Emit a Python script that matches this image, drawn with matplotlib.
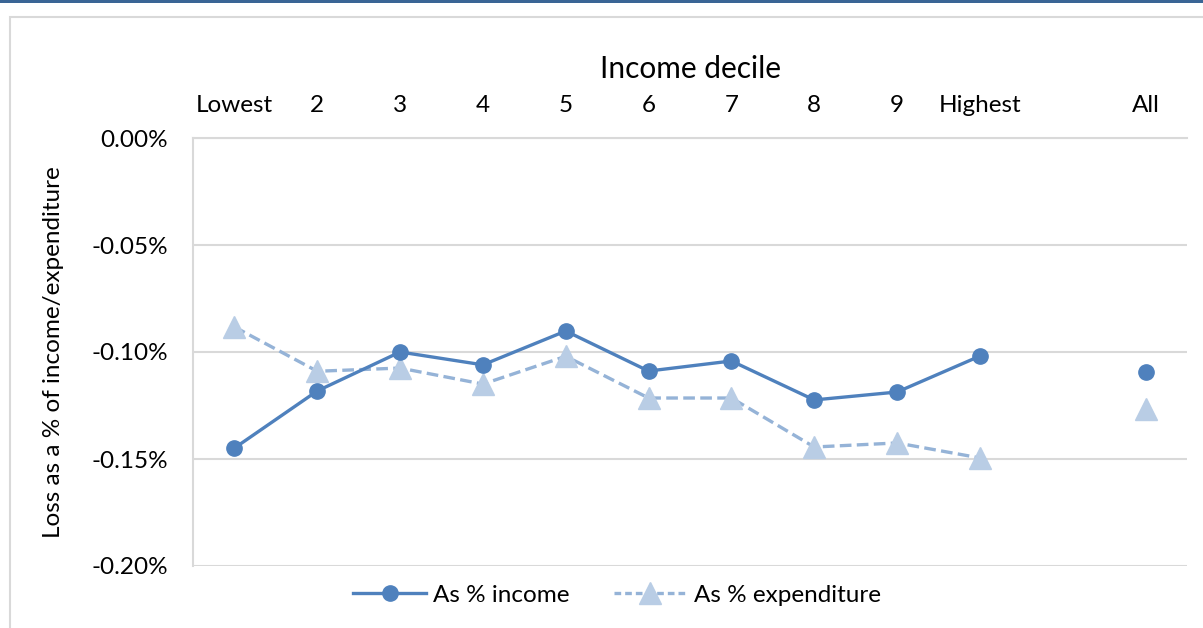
import matplotlib
matplotlib.use("Agg")
import matplotlib.pyplot as plt
from matplotlib.lines import Line2D
from matplotlib.patches import Rectangle
from matplotlib.ticker import FuncFormatter

plt.rcParams['font.family'] = ['Lato', 'DejaVu Sans']

categories = ['Lowest', '2', '3', '4', '5', '6', '7', '8', '9', 'Highest', '', 'All']
deciles = categories[:10]
as_income = [-0.1449, -0.1182, -0.1000, -0.1060, -0.0902, -0.1089, -0.1042, -0.1224, -0.1187, -0.1019]
as_expend = [-0.0883, -0.1090, -0.1075, -0.1150, -0.1020, -0.1215, -0.1215, -0.1444, -0.1425, -0.1495]
all_income = -0.1093
all_expend = -0.1266

c_income = '#4F81BD'
c_expend_line = '#95B3D7'
c_expend_mark = '#B9CDE5'
dash = (0, (3.5, 1.6))

fig = plt.figure(figsize=(12.03, 6.28), dpi=100)
# outer chart frame and top band
fig.patches.append(Rectangle((10 / 1203, -0.01), 1.0, 1 - 17 / 628 + 0.01, transform=fig.transFigure,
                             fill=False, edgecolor='#D9D9D9', linewidth=1.5))
fig.patches.append(Rectangle((0, 1 - 3 / 628), 1, 3 / 628, transform=fig.transFigure,
                             facecolor='#3A6595', edgecolor='none'))

ax = fig.add_axes([193 / 1203, 62 / 628, 994 / 1203, (566 - 138) / 628])

xs = list(range(len(deciles)))
ax.plot(xs, as_income, color=c_income, lw=2.4, marker='o', ms=11, zorder=4)
ax.plot(xs, as_expend, color=c_expend_line, lw=2.4, ls=dash, marker='^', ms=16,
        markerfacecolor=c_expend_mark, markeredgecolor=c_expend_mark, zorder=3)
ax.plot([categories.index('All')], [all_income], color=c_income, marker='o', ms=11, ls='none', zorder=4)
ax.plot([categories.index('All')], [all_expend], color=c_expend_mark, marker='^', ms=16, ls='none', zorder=3)

ax.set_xlim(-0.5, len(categories) - 0.5)
ax.set_ylim(-0.20, 0.0)
ax.set_yticks([0.0, -0.05, -0.10, -0.15, -0.20])
ax.yaxis.set_major_formatter(FuncFormatter(lambda v, p: f'{v:.2f}%'))
ax.set_xticks(range(len(categories)))
ax.set_xticklabels(categories)
ax.xaxis.tick_top()
ax.xaxis.set_label_position('top')
ax.set_xlabel('Income decile', fontsize=21.5, labelpad=12)
ax.set_ylabel('Loss as a % of income/expenditure', fontsize=17.5, labelpad=20)
ax.tick_params(axis='both', length=0, labelsize=17.5, colors='black')
ax.tick_params(axis='x', pad=16)
ax.tick_params(axis='y', pad=18)
ax.grid(axis='y', color='#D9D9D9', lw=1.5)
ax.set_axisbelow(True)
for s in ['right', 'bottom']:
    ax.spines[s].set_visible(False)
for s in ['left', 'top']:
    ax.spines[s].set_color('#D9D9D9')
    ax.spines[s].set_linewidth(1.5)

handles = [
    Line2D([], [], color=c_income, lw=2.4, marker='o', ms=11),
    Line2D([], [], color=c_expend_line, lw=2.4, ls=(0, (2, 1.2)), marker='^', ms=16,
           markerfacecolor=c_expend_mark, markeredgecolor=c_expend_mark),
]
fig.legend(handles, ['As % income', 'As % expenditure'], loc='center', bbox_to_anchor=(617 / 1203, 1 - 595 / 628),
           ncol=2, frameon=False, fontsize=17.5, handlelength=3.0, columnspacing=1.8, handletextpad=0.3)

fig.savefig('out.png', dpi=100)
